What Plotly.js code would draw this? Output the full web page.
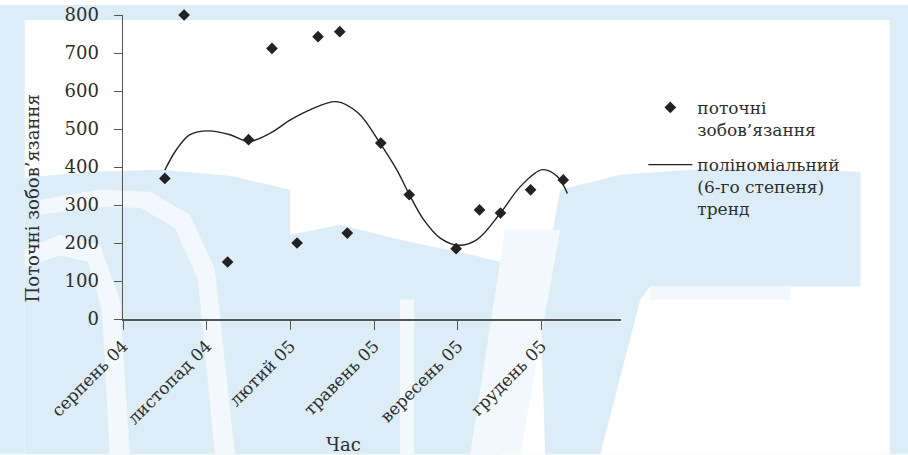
<!DOCTYPE html>
<html>
<head>
<meta charset="utf-8">
<script src="https://cdn.plot.ly/plotly-3.0.1.min.js"></script>
<style>
html,body{margin:0;padding:0;background:#fff;}
#chart{width:908px;height:455px;}
</style>
</head>
<body>
<div id="chart"></div>
<script>
// Observed data: current liabilities
const pointDates = ['2004-09-20','2004-10-13','2004-12-04','2004-12-29','2005-01-26','2005-02-25',
  '2005-03-22','2005-04-17','2005-04-26','2005-06-05','2005-07-09','2005-09-03',
  '2005-10-01','2005-10-26','2005-12-01','2006-01-09'];
const pointValues = [370, 800, 150, 472, 712, 200, 743, 756, 226, 463, 327, 185, 287, 279, 340, 366];

// Polynomial (6th degree) trend line
const trendDates = ['2004-09-20','2004-10-04','2004-10-20','2004-11-11','2004-12-07','2004-12-29',
  '2005-01-24','2005-02-17','2005-03-13','2005-04-13','2005-05-09','2005-06-04','2005-06-24',
  '2005-07-09','2005-07-26','2005-08-15','2005-09-06','2005-09-28','2005-10-26','2005-11-19',
  '2005-12-15','2006-01-02','2006-01-14'];
const trendValues = [392, 446, 485, 495, 485, 467, 489, 524, 551, 572, 542, 463, 393,
  328, 262, 213, 194, 209, 279, 349, 393, 375, 330];

// Axis ticks
const tickDates = ['2004-08-01','2004-11-09','2005-02-17','2005-05-28','2005-09-05','2005-12-14'];
const tickLabels = ['серпень 04','листопад 04','лютий 05','травень 05','вересень 05','грудень 05'];
const yTicks = [0,100,200,300,400,500,600,700,800];

const seriesNames = ['поточні<br>зобов’язання','поліноміальний<br>(6-го степеня)<br>тренд'];
const yTitle = 'Поточні зобов’язання';
const xTitle = 'Час';

const L = 123.2, R = 620.7, T = 15, B = 319.5;
const fx = p => (p - L) / (R - L);
const fy = p => (B - p) / (B - T);

const FONT = 'DejaVu Serif, Liberation Serif, serif';
const TXT = '#2e2e2e';
const BLUE = '#dcedf7';
const PALE = '#f3f8fc';

function rectPx(x0,y0,x1,y1,color){
  return {type:'rect', xref:'paper', yref:'paper', x0:fx(x0), x1:fx(x1), y0:fy(y1), y1:fy(y0),
    fillcolor:color, line:{width:0}, layer:'below'};
}
function pathPx(pts,color){
  let d = pts.map((p,i)=> (i?'L':'M') + fx(p[0]).toFixed(4) + ',' + fy(p[1]).toFixed(4)).join(' ') + ' Z';
  return {type:'path', xref:'paper', yref:'paper', path:d, fillcolor:color, line:{width:0}, layer:'below'};
}

const shapes = [
  rectPx(0,0,908,455,BLUE),
  rectPx(0,0,908,5,'#ffffff'),
  rectPx(25,20,889,455,'#ffffff'),
  // watermark approximation (light background logo)
  pathPx([[25,178],[90,172],[160,170],[230,176],[290,190],[290,455],[25,455]], BLUE),
  pathPx([[40,200],[100,190],[150,192],[190,215],[215,270],[235,455],[215,455],[198,280],[175,228],[140,208],[95,207],[40,215]], PALE),
  pathPx([[25,250],[60,235],[100,245],[120,300],[130,455],[110,455],[102,310],[88,262],[60,256],[25,268]], PALE),
  pathPx([[290,235],[340,225],[400,240],[470,255],[500,262],[500,455],[290,455]], BLUE),
  rectPx(400,300,414,455,PALE),
  pathPx([[560,190],[620,175],[720,168],[860,172],[860,287],[650,287],[640,300],[600,455],[545,455],[540,300]], BLUE),
  rectPx(650,287,790,300,PALE),
  pathPx([[505,230],[560,230],[520,455],[470,455]], PALE)
];

const data = [
  {
    x: pointDates, y: pointValues, type:'scatter', mode:'markers', name: seriesNames[0],
    marker:{symbol:'diamond', size:9, color:'#222222'}, cliponaxis:false, legendgroup:'a'
  },
  {
    x: trendDates, y: trendValues, type:'scatter', mode:'lines', name: seriesNames[1],
    line:{shape:'spline', smoothing:1, color:'#222222', width:1.4}, cliponaxis:false, legendgroup:'b'
  }
];

const layout = {
  width:908, height:455,
  margin:{l:L, r:908-R, t:T, b:455-B, pad:0},
  paper_bgcolor:'#ffffff', plot_bgcolor:'rgba(0,0,0,0)',
  font:{family:FONT, size:17, color:TXT},
  showlegend:true,
  legend:{x:fx(643), y:fy(90), xanchor:'left', yanchor:'top', valign:'top', itemwidth:44,
    bgcolor:'rgba(0,0,0,0)', font:{family:FONT, size:17, color:TXT}, tracegroupgap:10},
  xaxis:{type:'date', range:['2004-08-01','2006-03-19'], tickmode:'array', tickvals:tickDates, ticktext:tickLabels,
    tickangle:-45, ticks:'outside', ticklen:9, tickcolor:'#555', showline:true, linecolor:'#555', linewidth:1.5,
    showgrid:false, zeroline:false, tickfont:{family:FONT, size:17, color:TXT}, fixedrange:true},
  yaxis:{range:[0,800], tickmode:'array', tickvals:yTicks, ticks:'outside', ticklen:8, tickcolor:'#555',
    showline:true, linecolor:'#555', linewidth:1.5, showgrid:false, zeroline:false, ticklabelstandoff:11,
    tickfont:{family:FONT, size:18, color:TXT}, fixedrange:true},
  shapes: shapes,
  annotations:[
    {text:yTitle, xref:'paper', yref:'paper', x:fx(33), y:fy(199), xanchor:'center', yanchor:'middle',
      textangle:-90, showarrow:false, font:{family:FONT, size:18, color:TXT}},
    {text:xTitle, xref:'paper', yref:'paper', x:fx(343), y:fy(445), xanchor:'center', yanchor:'middle',
      showarrow:false, font:{family:FONT, size:18, color:TXT}}
  ]
};

Plotly.newPlot('chart', data, layout, {staticPlot:true, displayModeBar:false});
</script>
</body>
</html>
